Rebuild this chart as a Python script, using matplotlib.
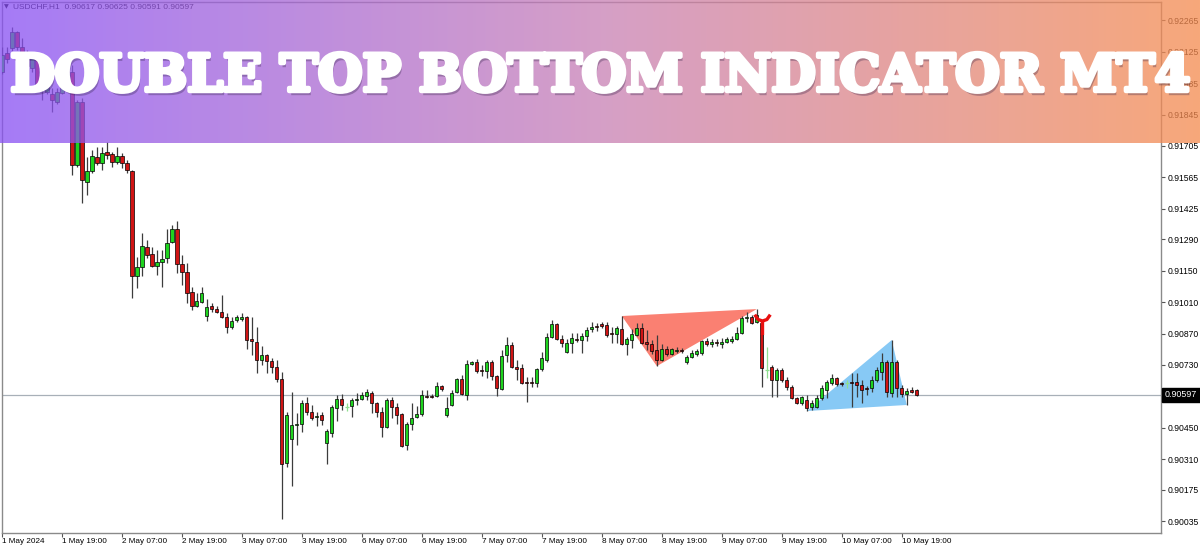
import numpy as np
import matplotlib
matplotlib.use("Agg")
import matplotlib.pyplot as plt
from matplotlib.path import Path
import matplotlib.patheffects as pe
import matplotlib.transforms as mtransforms

plt.rcParams['font.family'] = ['Liberation Sans', 'DejaVu Sans']

# ---------------- data ----------------
symbol = "USDCHF,H1"
title = "DOUBLE TOP BOTTOM INDICATOR MT4"

opens = [
    0.92034, 0.92119, 0.92141, 0.92213, 0.92146, 0.92115, 0.92052, 0.92101, 0.91977, 0.91945,
    0.91936, 0.91901, 0.91941, 0.91968, 0.92034, 0.91620, 0.91901, 0.91545, 0.91594, 0.91656,
    0.91629, 0.91678, 0.91669, 0.91634, 0.91660, 0.91629, 0.91594, 0.91126, 0.91166, 0.91255,
    0.91224, 0.91171, 0.91188, 0.91206, 0.91277, 0.91335, 0.91179, 0.91144, 0.91055, 0.90992,
    0.91010, 0.90948, 0.90992, 0.90979, 0.90966, 0.90943, 0.90899, 0.90930, 0.90935, 0.90943,
    0.90845, 0.90832, 0.90752, 0.90774, 0.90748, 0.90721, 0.90667, 0.90293, 0.90400, 0.90463,
    0.90467, 0.90560, 0.90520, 0.90498, 0.90507, 0.90382, 0.90427, 0.90538, 0.90578, 0.90543,
    0.90547, 0.90574, 0.90578, 0.90592, 0.90605, 0.90560, 0.90520, 0.90454, 0.90574, 0.90543,
    0.90512, 0.90373, 0.90467, 0.90498, 0.90512, 0.90592, 0.90592, 0.90592, 0.90636, 0.90507,
    0.90552, 0.90609, 0.90667, 0.90596, 0.90734, 0.90743, 0.90707, 0.90703, 0.90743, 0.90681,
    0.90623, 0.90774, 0.90819, 0.90721, 0.90716, 0.90654, 0.90654, 0.90650, 0.90712, 0.90752,
    0.90854, 0.90912, 0.90845, 0.90788, 0.90828, 0.90845, 0.90841, 0.90859, 0.90890, 0.90903,
    0.90912, 0.90908, 0.90872, 0.90868, 0.90890, 0.90823, 0.90841, 0.90863, 0.90894, 0.90832,
    0.90823, 0.90796, 0.90752, 0.90801, 0.90779, 0.90792, 0.90796, 0.90743, 0.90765, 0.90779,
    0.90783, 0.90837, 0.90823, 0.90832, 0.90823, 0.90832, 0.90837, 0.90845, 0.90872, 0.90939,
    0.90943, 0.90921, 0.90917, 0.90707, 0.90721, 0.90663, 0.90707, 0.90663, 0.90632, 0.90583,
    0.90560, 0.90574, 0.90543, 0.90543, 0.90583, 0.90618, 0.90650, 0.90672, 0.90650, 0.90650,
    0.90654, 0.90654, 0.90641, 0.90627, 0.90627, 0.90663, 0.90699, 0.90743, 0.90605, 0.90743,
    0.90627, 0.90601, 0.90618, 0.90617,
]
highs = [
    0.92146, 0.92146, 0.92235, 0.92217, 0.92186, 0.92132, 0.92110, 0.92110, 0.91999, 0.91999,
    0.91963, 0.91963, 0.91985, 0.92052, 0.92066, 0.91910, 0.91919, 0.91656, 0.91687, 0.91700,
    0.91700, 0.91723, 0.91678, 0.91700, 0.91674, 0.91643, 0.91598, 0.91211, 0.91318, 0.91286,
    0.91255, 0.91242, 0.91242, 0.91335, 0.91353, 0.91371, 0.91220, 0.91184, 0.91077, 0.91050,
    0.91077, 0.91024, 0.91006, 0.90992, 0.91041, 0.90961, 0.90943, 0.90952, 0.90961, 0.90948,
    0.90943, 0.90899, 0.90814, 0.90779, 0.90761, 0.90752, 0.90699, 0.90520, 0.90609, 0.90516,
    0.90574, 0.90587, 0.90552, 0.90520, 0.90520, 0.90445, 0.90552, 0.90596, 0.90601, 0.90560,
    0.90583, 0.90605, 0.90609, 0.90623, 0.90614, 0.90565, 0.90543, 0.90583, 0.90587, 0.90560,
    0.90516, 0.90476, 0.90560, 0.90547, 0.90618, 0.90618, 0.90601, 0.90654, 0.90641, 0.90587,
    0.90618, 0.90672, 0.90685, 0.90752, 0.90748, 0.90756, 0.90730, 0.90752, 0.90752, 0.90685,
    0.90796, 0.90854, 0.90832, 0.90752, 0.90734, 0.90676, 0.90676, 0.90716, 0.90788, 0.90872,
    0.90930, 0.90917, 0.90863, 0.90845, 0.90872, 0.90872, 0.90872, 0.90899, 0.90921, 0.90917,
    0.90921, 0.90921, 0.90899, 0.90903, 0.90948, 0.90854, 0.90890, 0.90917, 0.90917, 0.90886,
    0.90841, 0.90863, 0.90823, 0.90814, 0.90805, 0.90810, 0.90805, 0.90774, 0.90796, 0.90801,
    0.90841, 0.90850, 0.90845, 0.90845, 0.90850, 0.90854, 0.90859, 0.90899, 0.90948, 0.90966,
    0.90952, 0.90979, 0.90930, 0.90810, 0.90730, 0.90716, 0.90716, 0.90676, 0.90641, 0.90587,
    0.90592, 0.90596, 0.90574, 0.90596, 0.90641, 0.90663, 0.90690, 0.90676, 0.90654, 0.90663,
    0.90694, 0.90694, 0.90663, 0.90636, 0.90681, 0.90721, 0.90783, 0.90752, 0.90841, 0.90752,
    0.90641, 0.90627, 0.90632, 0.90625,
]
lows = [
    0.92026, 0.92075, 0.92128, 0.92132, 0.92088, 0.92043, 0.92034, 0.91963, 0.91910, 0.91936,
    0.91856, 0.91892, 0.91936, 0.91959, 0.91576, 0.91611, 0.91451, 0.91487, 0.91585, 0.91620,
    0.91598, 0.91647, 0.91611, 0.91625, 0.91607, 0.91585, 0.91028, 0.91073, 0.91126, 0.91206,
    0.91166, 0.91130, 0.91077, 0.91184, 0.91273, 0.91139, 0.91086, 0.91006, 0.90975, 0.90988,
    0.91006, 0.90926, 0.90966, 0.90961, 0.90939, 0.90872, 0.90890, 0.90921, 0.90926, 0.90801,
    0.90774, 0.90694, 0.90730, 0.90694, 0.90694, 0.90654, 0.90044, 0.90275, 0.90191, 0.90373,
    0.90431, 0.90507, 0.90485, 0.90458, 0.90463, 0.90289, 0.90409, 0.90480, 0.90529, 0.90525,
    0.90498, 0.90552, 0.90574, 0.90574, 0.90516, 0.90498, 0.90409, 0.90449, 0.90494, 0.90467,
    0.90365, 0.90351, 0.90440, 0.90494, 0.90503, 0.90583, 0.90583, 0.90587, 0.90614, 0.90498,
    0.90547, 0.90605, 0.90596, 0.90574, 0.90730, 0.90694, 0.90681, 0.90672, 0.90663, 0.90592,
    0.90618, 0.90743, 0.90716, 0.90663, 0.90645, 0.90565, 0.90632, 0.90632, 0.90703, 0.90743,
    0.90850, 0.90841, 0.90810, 0.90783, 0.90783, 0.90832, 0.90783, 0.90837, 0.90877, 0.90881,
    0.90894, 0.90854, 0.90828, 0.90828, 0.90819, 0.90774, 0.90805, 0.90859, 0.90823, 0.90796,
    0.90779, 0.90725, 0.90748, 0.90770, 0.90774, 0.90783, 0.90783, 0.90734, 0.90761, 0.90770,
    0.90774, 0.90814, 0.90810, 0.90814, 0.90805, 0.90828, 0.90828, 0.90841, 0.90868, 0.90921,
    0.90912, 0.90917, 0.90632, 0.90672, 0.90587, 0.90587, 0.90654, 0.90618, 0.90578, 0.90556,
    0.90552, 0.90525, 0.90529, 0.90538, 0.90574, 0.90583, 0.90641, 0.90636, 0.90636, 0.90627,
    0.90543, 0.90587, 0.90560, 0.90596, 0.90609, 0.90654, 0.90663, 0.90587, 0.90587, 0.90587,
    0.90587, 0.90552, 0.90605, 0.90591,
]
closes = [
    0.92110, 0.92092, 0.92213, 0.92146, 0.92110, 0.92061, 0.92101, 0.91981, 0.91954, 0.91985,
    0.91910, 0.91945, 0.91968, 0.92026, 0.91620, 0.91901, 0.91554, 0.91594, 0.91660, 0.91629,
    0.91674, 0.91665, 0.91634, 0.91660, 0.91629, 0.91598, 0.91126, 0.91166, 0.91260, 0.91220,
    0.91171, 0.91188, 0.91202, 0.91273, 0.91335, 0.91179, 0.91144, 0.91050, 0.90992, 0.91015,
    0.91050, 0.90988, 0.90979, 0.90966, 0.90943, 0.90899, 0.90926, 0.90943, 0.90943, 0.90841,
    0.90837, 0.90752, 0.90774, 0.90748, 0.90721, 0.90667, 0.90289, 0.90507, 0.90463, 0.90467,
    0.90560, 0.90520, 0.90494, 0.90503, 0.90485, 0.90436, 0.90543, 0.90578, 0.90552, 0.90543,
    0.90574, 0.90578, 0.90596, 0.90609, 0.90560, 0.90520, 0.90454, 0.90574, 0.90543, 0.90507,
    0.90369, 0.90467, 0.90494, 0.90512, 0.90596, 0.90587, 0.90587, 0.90636, 0.90623, 0.90538,
    0.90605, 0.90667, 0.90601, 0.90734, 0.90743, 0.90703, 0.90703, 0.90743, 0.90681, 0.90627,
    0.90770, 0.90819, 0.90721, 0.90712, 0.90650, 0.90650, 0.90650, 0.90712, 0.90761, 0.90854,
    0.90912, 0.90845, 0.90828, 0.90828, 0.90850, 0.90841, 0.90859, 0.90886, 0.90899, 0.90899,
    0.90903, 0.90863, 0.90868, 0.90894, 0.90823, 0.90845, 0.90868, 0.90894, 0.90828, 0.90823,
    0.90792, 0.90752, 0.90801, 0.90779, 0.90801, 0.90796, 0.90792, 0.90765, 0.90783, 0.90792,
    0.90837, 0.90823, 0.90832, 0.90828, 0.90832, 0.90845, 0.90845, 0.90872, 0.90939, 0.90943,
    0.90917, 0.90952, 0.90716, 0.90707, 0.90663, 0.90707, 0.90663, 0.90632, 0.90583, 0.90560,
    0.90587, 0.90538, 0.90560, 0.90583, 0.90627, 0.90654, 0.90672, 0.90645, 0.90645, 0.90650,
    0.90650, 0.90641, 0.90618, 0.90623, 0.90663, 0.90707, 0.90743, 0.90609, 0.90743, 0.90627,
    0.90601, 0.90614, 0.90609, 0.90597,
]

time_labels = ["1 May 2024", "1 May 19:00", "2 May 07:00", "2 May 19:00", "3 May 07:00",
               "3 May 19:00", "6 May 07:00", "6 May 19:00", "7 May 07:00", "7 May 19:00",
               "8 May 07:00", "8 May 19:00", "9 May 07:00", "9 May 19:00", "10 May 07:00",
               "10 May 19:00"]
bars_per_label = 12
price_ticks = [0.92265, 0.92125, 0.91985, 0.91845, 0.91705, 0.91565, 0.91425, 0.91290,
               0.91150, 0.91010, 0.90870, 0.90730, 0.90450, 0.90310, 0.90175, 0.90035]
last_price = 0.90597
double_top = [124, 131, 151]      # high, low, high
double_bottom = [161, 178, 181]   # low, high, low
signal_bar = 152

# ---------------- figure ----------------
W, H = 1200, 545
fig = plt.figure(figsize=(W / 100, H / 100), dpi=100)
fig.patch.set_facecolor('white')
ax = fig.add_axes([2 / W, 12 / H, 1159 / W, 531 / H])
ax.set_facecolor('white')

o = np.array(opens); h = np.array(highs); l = np.array(lows); c = np.array(closes)
idx = np.arange(len(o))
up = c > o
dn = c < o
dj = c == o

green = '#1ed41e'
red = '#d01414'
doji = '#8fe08f'
wick = '#3c3c3c'

# current price line
ax.axhline(last_price, color='#a8b0b8', lw=0.9, zorder=1)

# pattern triangles
ax.fill(double_top, [h[double_top[0]], l[double_top[1]], h[double_top[2]]],
        color='#fa8072', lw=0, zorder=2)
ax.fill(double_bottom, [l[double_bottom[0]], h[double_bottom[1]], l[double_bottom[2]]],
        color='#87c9f5', lw=0, zorder=2)

# wicks
nd = ~dj
ax.vlines(idx[nd], l[nd], h[nd], color=wick, lw=0.9, zorder=3)
ax.vlines(idx[dj], l[dj], h[dj], color=doji, lw=0.9, zorder=3)
ax.hlines(o[dj], idx[dj] - 0.35, idx[dj] + 0.35, color=doji, lw=0.9, zorder=4)

# bodies
bw = 0.62
minh = 0.000025
ax.bar(idx[up], np.maximum(c[up] - o[up], minh), bottom=o[up], width=bw,
       color=green, edgecolor='black', linewidth=0.5, zorder=4)
ax.bar(idx[dn], np.maximum(o[dn] - c[dn], minh), bottom=c[dn], width=bw,
       color=red, edgecolor='black', linewidth=0.5, zorder=4)

# sell signal arrow above the signal bar
arrow_path = Path([(-0.8, 0.6), (-0.45, 0.1), (0, -0.05), (0.45, 0.1), (0.8, 0.6),
                   (0, 0.0), (0, -1.5)],
                  [Path.MOVETO, Path.LINETO, Path.LINETO, Path.LINETO, Path.LINETO,
                   Path.MOVETO, Path.LINETO])
ax.plot([signal_bar], [h[signal_bar]], ls='none', marker=arrow_path, ms=21,
        mec='#e81010', mfc='none', mew=2.4, zorder=6)

# axes limits (bar i centred at pixel 1.7 + 5*i)
ax.set_xlim((2 - 1.7) / 5.0, (1161 - 1.7) / 5.0)
ax.set_ylim(0.89982, 0.92346)

# x ticks
xt = [k * bars_per_label for k in range(len(time_labels))]
ax.set_xticks(xt)
ax.set_xticklabels(time_labels)
for lab in ax.get_xticklabels():
    lab.set_ha('left')
ax.tick_params(axis='x', direction='out', length=3, width=0.8, color='#555555',
               labelsize=5.9, pad=0.3, labelcolor='black')

# y ticks on the right
ax.yaxis.tick_right()
ax.set_yticks(price_ticks)
ax.set_yticklabels([f"{p:.5f}" for p in price_ticks])
ax.tick_params(axis='y', direction='out', length=3, width=0.8, color='#555555',
               labelsize=6.2, pad=2, labelcolor='black')

for s in ax.spines.values():
    s.set_color('#8a8a8a')
    s.set_linewidth(1.0)

# current price label
trans = mtransforms.blended_transform_factory(ax.transAxes, ax.transData)
ax.text(1.0035, last_price, f"{last_price:.5f}", transform=trans, ha='left', va='center',
        fontsize=6.4, color='white', zorder=10, clip_on=False,
        bbox=dict(boxstyle='square,pad=0.3', fc='black', ec='black'))

# header text (under the banner)
fig.text(4 / W, 1 - 7 / H, '\u25bc', fontsize=4.5, color='black', va='center',
         family=['DejaVu Sans'], zorder=1)
fig.text(13 / W, 1 - 7 / H,
         f"{symbol}  {o[-1]:.5f} {h[-1]:.5f} {l[-1]:.5f} {c[-1]:.5f}",
         fontsize=6, color='black', va='center', zorder=1)

# gradient banner overlay
bh = 143
ov = fig.add_axes([0, 1 - bh / H, 1, bh / H])
ov.set_zorder(10)
stops_x = [0.0, 0.5, 1.0]
stops_c = np.array([[137, 81, 244], [200, 128, 181], [245, 140, 80]]) / 255.0
gx = np.linspace(0, 1, 600)
grad = np.stack([np.interp(gx, stops_x, stops_c[:, k]) for k in range(3)], axis=-1)[None, :, :]
ov.imshow(grad, aspect='auto', extent=[0, 1, 0, 1], alpha=0.76, interpolation='bilinear')
ov.set_xlim(0, 1); ov.set_ylim(0, 1)
ov.axis('off')

t = ov.text(0.5, (bh - 91) / bh, title, ha='center', va='baseline', color='white',
            fontsize=40, family='DejaVu Serif', fontweight='bold', zorder=5)
fig.canvas.draw()
w = t.get_window_extent(renderer=fig.canvas.get_renderer()).width
t.set_fontsize(40 * 1180 / w)
t.set_path_effects([
    pe.withSimplePatchShadow(offset=(1.5, -3), shadow_rgbFace='#2a1a40', alpha=0.3),
    pe.Stroke(linewidth=3.2, foreground='white'),
    pe.Normal()])

fig.savefig('out.png', dpi=100)
